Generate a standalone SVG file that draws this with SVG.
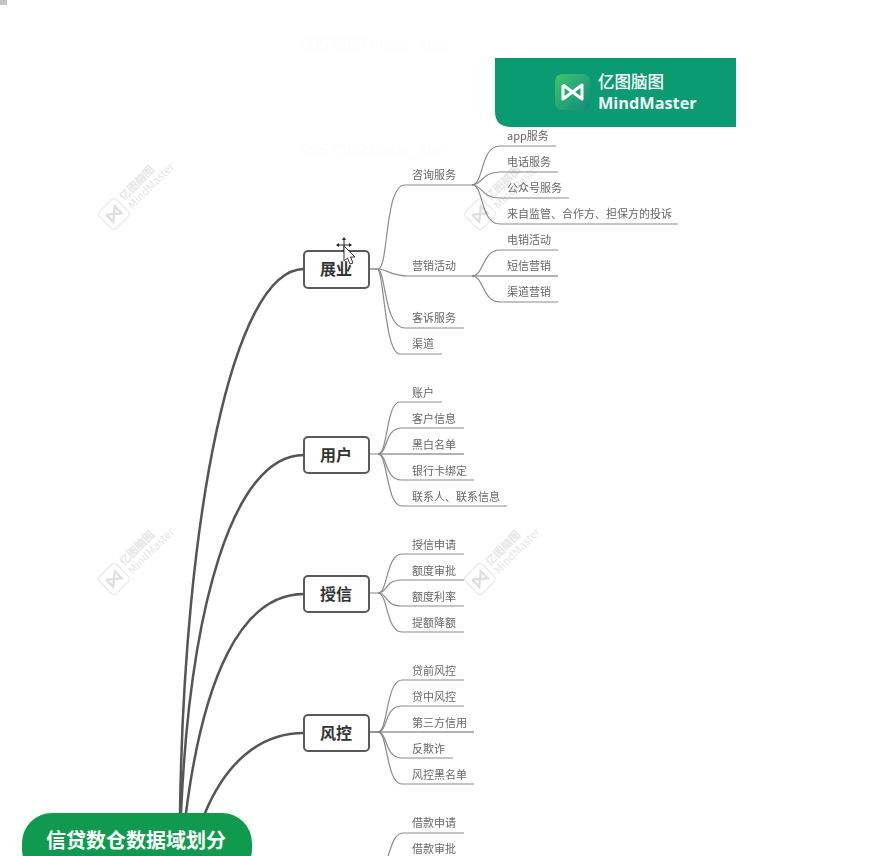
<svg xmlns="http://www.w3.org/2000/svg" width="890" height="856" viewBox="0 0 890 856">
<defs>
<style>
text{font-family:"Noto Sans CJK SC","Liberation Sans",sans-serif}
.main{fill:none;stroke:#555;stroke-width:2.5;stroke-linecap:round}
.sub{fill:none;stroke:#8a8a8a;stroke-width:1.2}
.leaf{fill:none;stroke:#666;stroke-width:1}
.n{fill:#fff;stroke:#5a5a5a;stroke-width:2}
.nt{font-size:16px;font-weight:700;fill:#333;text-anchor:middle}
.t{font-size:11px;fill:#666}
.wt{font-size:11px;fill:#e6e6e6}
.wm{font-size:17px;fill:#fdfdfd;font-family:"Liberation Sans",sans-serif}
</style>
<filter id="soft" x="-5%" y="-5%" width="110%" height="110%"><feGaussianBlur stdDeviation="0.35"/></filter>
<linearGradient id="lg" x1="0" y1="0" x2="1" y2="1"><stop offset="0" stop-color="#3fc46f"/><stop offset="1" stop-color="#138a7c"/></linearGradient>
<g id="mark">
<rect x="-12" y="-12" width="24" height="24" rx="4" fill="#fff" stroke="#ececec" stroke-width="1.5"/>
<path d="M-6 -5 L-6 5 L6 -5 L6 5 L-6 -5" fill="none" stroke="#dedede" stroke-width="2.2"/>
<text class="wt" x="16" y="-2" font-weight="700">亿图脑图</text>
<text class="wt" x="16" y="10">MindMaster</text>
</g>
</defs>
<rect width="890" height="856" fill="#fff"/>
<rect x="0" y="0" width="7" height="5" fill="#c4c4c4"/>
<g id="watermarks">
<text class="wm" x="300" y="50">9057269 linshi_xhc</text>
<text class="wm" x="300" y="156">9057269 linshi_xhc</text>
<use href="#mark" transform="translate(114,214) rotate(-45)"/>
<use href="#mark" transform="translate(480,214) rotate(-45)"/>
<use href="#mark" transform="translate(114,579) rotate(-45)"/>
<use href="#mark" transform="translate(480,579) rotate(-45)"/>
</g>
<g id="connectors" filter="url(#soft)">
<path class="main" d="M180 813C184 520 232 269 304 269"/>
<path class="main" d="M181 813C190 610 232 455 304 455"/>
<path class="main" d="M186 813C203 680 240 594 304 594"/>
<path class="main" d="M205 813C225 765 258 733 304 733"/>
<path class="sub" d="M369 269H378C389 269 384 185 405 185H472"/>
<path class="sub" d="M369 269H378C386 269 392 276 408 276H472"/>
<path class="sub" d="M378 269C386 272 384 328 405 328H464"/>
<path class="sub" d="M378 269C384 275 385 354 400 354H442"/>
<path class="sub" d="M472 185C484 185 480 146 500 146H556"/>
<path class="sub" d="M472 185C482 185 482 172 500 172H558"/>
<path class="sub" d="M472 185C482 185 482 198 500 198H569"/>
<path class="sub" d="M472 185C484 185 480 224 500 224H678"/>
<path class="sub" d="M472 276C484 276 482 250 500 250H558"/>
<path class="leaf" d="M472 276H558"/>
<path class="sub" d="M472 276C484 276 482 302 500 302H558"/>
<path class="sub" d="M369 454H378C388 454 386 402 400 402H442"/>
<path class="sub" d="M378 454C388 454 384 428 402 428H464"/>
<path class="leaf" d="M378 454H464"/>
<path class="sub" d="M378 454C388 454 384 480 402 480H474"/>
<path class="sub" d="M378 454C388 454 386 506 402 506H507"/>
<path class="sub" d="M369 593H378C388 593 386 554 402 554H464"/>
<path class="sub" d="M378 593C388 593 384 580 402 580H464"/>
<path class="sub" d="M378 593C388 593 384 606 402 606H464"/>
<path class="sub" d="M378 593C388 593 386 632 402 632H464"/>
<path class="sub" d="M369 732H378C388 732 386 680 402 680H464"/>
<path class="sub" d="M378 732C388 732 384 706 402 706H464"/>
<path class="leaf" d="M369 732H474"/>
<path class="sub" d="M378 732C388 732 384 758 402 758H453"/>
<path class="sub" d="M378 732C388 732 386 784 402 784H474"/>
<path class="sub" d="M388 856C392 845 394 833 404 833H464"/>
</g>
<g id="banner">
<path d="M495 58H736V127H511Q495 127 495 111Z" fill="#0a9b72"/>
<rect x="555" y="74" width="35" height="36" rx="7" fill="url(#lg)"/>
<path d="M563 85V99L582 85V99L563 85" fill="none" stroke="#fff" stroke-width="3" stroke-linejoin="round"/>
<text x="598" y="88" font-size="16.500" font-weight="500" fill="#fff">亿图脑图</text>
<text x="598" y="109" font-size="16.300" font-weight="700" fill="#f2f7f5" style="font-family:'Open Sans','Liberation Sans',sans-serif">MindMaster</text>
</g>
<g id="root"><rect x="22" y="813" width="230" height="66" rx="30" fill="#0f9a50"/><text x="136" y="848" font-size="20" font-weight="700" fill="#fff" text-anchor="middle">信贷数仓数据域划分</text></g>
<g id="n-zhanye"><rect class="n" x="304" y="251" width="65" height="37" rx="4"/><text class="nt" x="336" y="275">展业</text></g>
<g id="n-yonghu"><rect class="n" x="304" y="437" width="65" height="36" rx="4"/><text class="nt" x="336" y="461">用户</text></g>
<g id="n-shouxin"><rect class="n" x="304" y="576" width="65" height="36" rx="4"/><text class="nt" x="336" y="600">授信</text></g>
<g id="n-fengkong"><rect class="n" x="304" y="715" width="65" height="36" rx="4"/><text class="nt" x="336" y="739">风控</text></g>
<g id="labels" filter="url(#soft)">
<text class="t" x="412" y="179">咨询服务</text>
<text class="t" x="412" y="270">营销活动</text>
<text class="t" x="412" y="322">客诉服务</text>
<text class="t" x="412" y="348">渠道</text>
<text class="t" x="507" y="140">app服务</text>
<text class="t" x="507" y="166">电话服务</text>
<text class="t" x="507" y="192">公众号服务</text>
<text class="t" x="507" y="218">来自监管、合作方、担保方的投诉</text>
<text class="t" x="507" y="244">电销活动</text>
<text class="t" x="507" y="270">短信营销</text>
<text class="t" x="507" y="296">渠道营销</text>
<text class="t" x="412" y="397">账户</text>
<text class="t" x="412" y="423">客户信息</text>
<text class="t" x="412" y="449">黑白名单</text>
<text class="t" x="412" y="475">银行卡绑定</text>
<text class="t" x="412" y="501">联系人、联系信息</text>
<text class="t" x="412" y="549">授信申请</text>
<text class="t" x="412" y="575">额度审批</text>
<text class="t" x="412" y="601">额度利率</text>
<text class="t" x="412" y="627">提额降额</text>
<text class="t" x="412" y="675">贷前风控</text>
<text class="t" x="412" y="701">贷中风控</text>
<text class="t" x="412" y="727">第三方信用</text>
<text class="t" x="412" y="753">反欺诈</text>
<text class="t" x="412" y="779">风控黑名单</text>
<text class="t" x="412" y="827">借款申请</text>
<text class="t" x="412" y="853">借款审批</text>
</g>
<g id="cursor">
<path d="M344 238V252M337 245H351" stroke="#222" stroke-width="1" fill="none"/>
<path d="M344 237l-2 3h4zM344 253l-2-3h4zM336 245l3-2v4zM352 245l-3-2v4z" fill="#222"/>
<path d="M344 246V261L347.500 258L350 264L353 263L350.500 257L355 257Z" fill="#fff" stroke="#333" stroke-width="1"/>
</g>
</svg>
